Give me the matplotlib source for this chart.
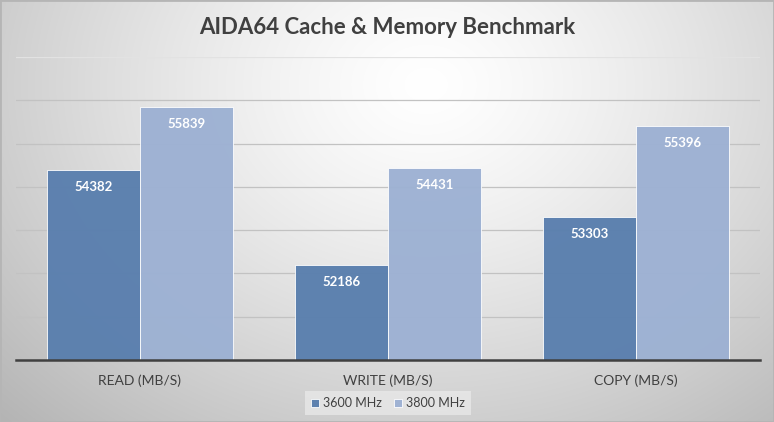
import numpy as np
import matplotlib
matplotlib.use("Agg")
import matplotlib.pyplot as plt
from matplotlib.patches import Rectangle

categories = ["READ (MB/S)", "WRITE (MB/S)", "COPY (MB/S)"]
series_names = ["3600 MHz", "3800 MHz"]
values_3600 = [54382, 52186, 53303]
values_3800 = [55839, 54431, 55396]
colors = ["#5a7fae", "#9db1d3"]

plt.rcParams['font.family'] = ['Lato', 'DejaVu Sans']

W, H = 774, 422
fig = plt.figure(figsize=(W / 100, H / 100), dpi=100)

# background radial gradient
bg = fig.add_axes([0, 0, 1, 1], zorder=-10)
yy, xx = np.mgrid[0:H, 0:W]
cx, cy = W * 0.55, H * 0.2
r = np.sqrt(((xx - cx) / (W * 0.62)) ** 2 + ((yy - cy) / (H * 0.9)) ** 2)
v = 1.0 - 0.22 * np.clip(r, 0, 1.3) ** 1.3
img = np.dstack([v, v, v])
bg.imshow(img, aspect='auto', extent=[0, 1, 0, 1], origin='upper')
bg.add_patch(Rectangle((0, 0), 1, 1, transform=bg.transAxes, fill=False,
                       edgecolor="#b5b5b5", linewidth=2))
bg.set_xlim(0, 1)
bg.set_ylim(0, 1)
bg.axis('off')

ax = fig.add_axes([16 / W, 1 - 360 / H, 744 / W, 303 / H])
ax.patch.set_alpha(0)
x = np.arange(len(categories))
bw = 0.375
for i, (vals, c) in enumerate(zip([values_3600, values_3800], colors)):
    pos = x + (i - 0.5) * bw
    ax.bar(pos, vals, width=bw, color=c, edgecolor="white", linewidth=0.6,
           label=series_names[i], zorder=3, alpha=0.97)
    for xp, val in zip(pos, vals):
        ax.annotate(f"{val}", (xp, val), xytext=(0, -12), textcoords="offset points",
                    ha='center', va='center', color='white', fontsize=9.5, fontweight='bold',
                    zorder=5)

ax.set_ylim(50000, 57000)
ax.set_xlim(-0.5, 2.5)
ax.set_yticks(np.arange(51000, 56001, 1000))
ax.yaxis.grid(True, color="#c2c2c2", linewidth=0.9)
ax.axhline(57000, color="#e2e2e2", linewidth=0.9, zorder=1)
ax.set_axisbelow(True)
ax.tick_params(axis='y', left=False, labelleft=False)
ax.tick_params(axis='x', bottom=False, labelsize=10, labelcolor="#404040", pad=7)
ax.set_xticks(x)
ax.set_xticklabels(categories)
for s in ['top', 'right', 'left']:
    ax.spines[s].set_visible(False)
ax.spines['bottom'].set_color("#404040")
ax.spines['bottom'].set_linewidth(1.8)
ax.spines['bottom'].set_zorder(6)

fig.text(0.5, 1 - 27 / H, "AIDA64 Cache & Memory Benchmark", ha='center', va='center',
         fontsize=16, fontweight='bold', color="#404040")

leg = fig.legend(loc='center', bbox_to_anchor=(388 / W, 1 - 403 / H), ncol=2,
                 frameon=True, fontsize=9, handlelength=0.6, handleheight=0.6,
                 handletextpad=0.35, columnspacing=1.0, borderpad=0.45)
leg.get_frame().set_facecolor("#ebebeb")
leg.get_frame().set_edgecolor("none")
leg.get_frame().set_alpha(0.7)
leg.get_frame().set_boxstyle("square", pad=0)
for t in leg.get_texts():
    t.set_color("#404040")

fig.savefig("out.png", dpi=100)
